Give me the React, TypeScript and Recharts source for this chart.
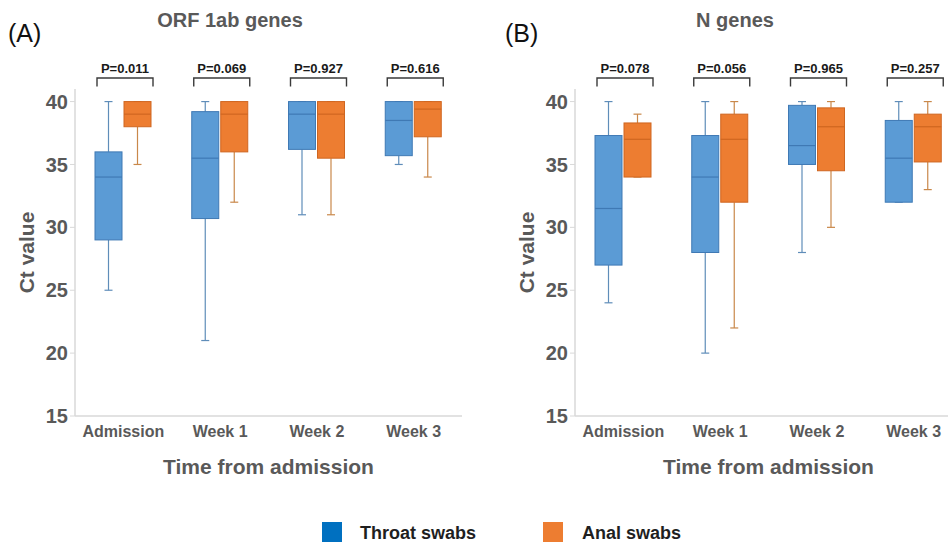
import { ComposedChart, Bar, XAxis, YAxis, Label } from "recharts";

const categories = ["Admission", "Week 1", "Week 2", "Week 3"];

// box summaries: [min, q1, median, q3, max]
const orfThroat = [
  [25, 29, 34, 36, 40],
  [21, 30.7, 35.5, 39.2, 40],
  [31, 36.2, 39, 40, 40],
  [35, 35.7, 38.5, 40, 40],
];
const orfAnal = [
  [35, 38, 39, 40, 40],
  [32, 36, 39, 40, 40],
  [31, 35.5, 39, 40, 40],
  [34, 37.2, 39.4, 40, 40],
];
const orfPValues = ["P=0.011", "P=0.069", "P=0.927", "P=0.616"];

const nThroat = [
  [24, 27, 31.5, 37.3, 40],
  [20, 28, 34, 37.3, 40],
  [28, 35, 36.5, 39.7, 40],
  [32, 32, 35.5, 38.5, 40],
];
const nAnal = [
  [34, 34, 37, 38.3, 39],
  [22, 32, 37, 39, 40],
  [30, 34.5, 38, 39.5, 40],
  [33, 35.2, 38, 39, 40],
];
const nPValues = ["P=0.078", "P=0.056", "P=0.965", "P=0.257"];

const yTicks = [15, 20, 25, 30, 35, 40];
const Y_MAX = 41;
const BAR_W = 27;
const BAR_GAP = 2;

const buildRows = (throat: number[][], anal: number[][], p: string[]) =>
  categories.map((c, i) => ({ category: c, throat: throat[i], anal: anal[i], p: p[i] }));

const orfRows = buildRows(orfThroat, orfAnal, orfPValues);
const nRows = buildRows(nThroat, nAnal, nPValues);

// custom box shape: the bar spans [min, max], the rest is placed inside that span
function boxShape(key: string, fill: string, stroke: string, whisker: string, withBracket: boolean) {
  return (props: any) => {
    const { x, y, width, height, payload } = props;
    const [lo, q1, med, q3, hi] = payload[key];
    const top = Math.min(y, y + height);
    const bottom = Math.max(y, y + height);
    const toY = (v: number) => bottom - ((v - lo) / (hi - lo)) * (bottom - top);
    const cx = x + width / 2;
    const cap = 4;
    const plotTop = toY(Y_MAX);
    const bx1 = x + 2;
    const bx2 = x + width * 2 + BAR_GAP + 2;
    return (
      <g>
        <line x1={cx} x2={cx} y1={toY(hi)} y2={toY(q3)} stroke={whisker} strokeWidth={1.2} />
        <line x1={cx} x2={cx} y1={toY(q1)} y2={toY(lo)} stroke={whisker} strokeWidth={1.2} />
        <line x1={cx - cap} x2={cx + cap} y1={toY(hi)} y2={toY(hi)} stroke={whisker} strokeWidth={1.2} />
        <line x1={cx - cap} x2={cx + cap} y1={toY(lo)} y2={toY(lo)} stroke={whisker} strokeWidth={1.2} />
        <rect x={x} y={toY(q3)} width={width} height={toY(q1) - toY(q3)} fill={fill} stroke={stroke} strokeWidth={1} />
        <line x1={x} x2={x + width} y1={toY(med)} y2={toY(med)} stroke={stroke} strokeWidth={1.2} />
        {withBracket && (
          <g>
            <path
              d={`M${bx1},${plotTop - 2.5} L${bx1},${plotTop - 11} L${bx2},${plotTop - 11} L${bx2},${plotTop - 2.5}`}
              fill="none"
              stroke="#3a3a3a"
              strokeWidth={1.4}
            />
            <text x={(bx1 + bx2) / 2} y={plotTop - 16} textAnchor="middle" fontSize={13} fontWeight="bold" fill="#1a1a1a">
              {payload.p}
            </text>
          </g>
        )}
      </g>
    );
  };
}

const textGray = "#595959";

function Panel({ rows }: { rows: any[] }) {
  return (
    <ComposedChart width={480} height={500} data={rows} barGap={BAR_GAP} margin={{ top: 89, right: 18, left: 0, bottom: 0 }}>
      <XAxis
        dataKey="category"
        tickLine={false}
        tickSize={8}
        axisLine={{ stroke: "#d9d9d9", strokeWidth: 1.5 }}
        tick={{ fontSize: 16, fontWeight: "bold", fill: textGray }}
        height={84}
      >
        <Label value="Time from admission" position="insideBottom" offset={26} fontSize={21} fontWeight="bold" fill={textGray} />
      </XAxis>
      <YAxis
        type="number"
        domain={[15, Y_MAX]}
        ticks={yTicks}
        width={75}
        tickSize={5}
        axisLine={{ stroke: "#d9d9d9", strokeWidth: 1.5 }}
        tickLine={{ stroke: "#d9d9d9" }}
        tick={{ fontSize: 20, fontWeight: "bold", fill: textGray }}
      >
        <Label
          value="Ct value"
          angle={-90}
          position="insideLeft"
          offset={27}
          fontSize={21}
          fontWeight="bold"
          fill={textGray}
          style={{ textAnchor: "middle" }}
        />
      </YAxis>
      <Bar
        dataKey={(d: any) => [d.throat[0], d.throat[4]]}
        barSize={BAR_W}
        isAnimationActive={false}
        shape={boxShape("throat", "#5b9bd5", "#3f79b4", "#5f8db9", true)}
      />
      <Bar
        dataKey={(d: any) => [d.anal[0], d.anal[4]]}
        barSize={BAR_W}
        isAnimationActive={false}
        shape={boxShape("anal", "#ed7d31", "#cf6620", "#c9884a", false)}
      />
    </ComposedChart>
  );
}

const abs = (left: number, top: number, extra: any = {}) => ({ position: "absolute" as const, left, top, ...extra });

export default function App() {
  return (
    <div
      style={{
        position: "absolute",
        left: 0,
        top: 0,
        width: 948,
        height: 544,
        overflow: "hidden",
        background: "#fff",
        fontFamily: '"Liberation Sans", Arial, sans-serif',
      }}
    >
      <div style={abs(0, 0)}>
        <Panel rows={orfRows} />
      </div>
      <div style={abs(500, 0)}>
        <Panel rows={nRows} />
      </div>

      <div style={abs(80, 8, { width: 300, textAlign: "center", fontSize: 20, fontWeight: "bold", color: textGray, lineHeight: "24px" })}>
        ORF 1ab genes
      </div>
      <div style={abs(585, 8, { width: 300, textAlign: "center", fontSize: 20, fontWeight: "bold", color: textGray, lineHeight: "24px" })}>
        N genes
      </div>
      <div style={abs(8, 20, { fontSize: 25, color: "#111", lineHeight: "26px" })}>(A)</div>
      <div style={abs(505, 20, { fontSize: 25, color: "#111", lineHeight: "26px" })}>(B)</div>

      <div style={abs(322, 522, { width: 20, height: 20, background: "#0070c0" })} />
      <div style={abs(360, 522, { fontSize: 18, fontWeight: "bold", color: "#1f1f1f", lineHeight: "22px" })}>Throat swabs</div>
      <div style={abs(543, 522, { width: 20, height: 20, background: "#ed7d31" })} />
      <div style={abs(582, 522, { fontSize: 18, fontWeight: "bold", color: "#1f1f1f", lineHeight: "22px" })}>Anal swabs</div>
    </div>
  );
}
